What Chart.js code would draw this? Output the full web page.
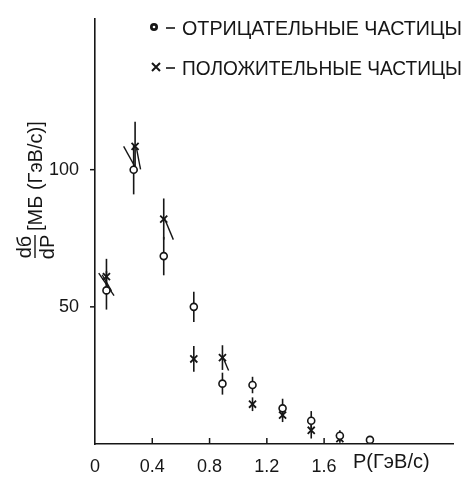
<!DOCTYPE html>
<html>
<head>
<meta charset="utf-8">
<script src="https://cdn.jsdelivr.net/npm/chart.js@4.4.0/dist/chart.umd.min.js"></script>
<style>
    body { margin: 0; background: #fff; }
</style>
</head>
<body>
<canvas id="chart" width="465" height="477"></canvas>
<script>
// negative particles (open circles)
const negMomentum = [0.08, 0.27, 0.48, 0.69, 0.89, 1.10, 1.31, 1.51, 1.71, 1.92];
const negValues   = [56, 100, 68.5, 50, 22, 21.5, 13, 8.5, 3, 1.5];
const negErrors   = [7, 9, 7, 5.5, 4, 3, 3.5, 3.5, 2, 1];

// positive particles (crosses)
const posMomentum = [0.08, 0.28, 0.48, 0.69, 0.89, 1.10, 1.31, 1.51, 1.71];
const posValues   = [61, 108.5, 82, 31, 31.5, 14.5, 10.5, 5, 2];
const posErrors   = [6.5, 9, 7.5, 4.7, 4.5, 2.5, 2.5, 3, 1.5];

// short slanted strokes drawn through some of the points
const slantFromX = [0.026, 0.05, 0.20, 0.29, 0.484, 0.893];
const slantFromY = [62.3, 61.7, 108.5, 107.8, 82.4, 31.6];
const slantToX   = [0.133, 0.115, 0.295, 0.318, 0.547, 0.933];
const slantToY   = [54.1, 55.8, 99.6, 100.1, 74.5, 26.8];

const xTicks = [0, 0.4, 0.8, 1.2, 1.6];
const yTicks = [50, 100];

const legendLabels = ["ОТРИЦАТЕЛЬНЫЕ ЧАСТИЦЫ", "ПОЛОЖИТЕЛЬНЫЕ ЧАСТИЦЫ"];
const xTitle = "P(ГэВ/с)";
const yTitleUnits = "[МБ (ГэВ/с)]";

const ink = "#161616";
const font = "'Liberation Sans', Arial, sans-serif";

const toPoints = (xs, ys) => xs.map((x, i) => ({ x: x, y: ys[i] }));

// vertical error bars and slanted strokes, drawn under the markers
const errorBars = {
    id: "errorBars",
    beforeDatasetsDraw(chart) {
        const ctx = chart.ctx;
        const xs = chart.scales.x;
        const ys = chart.scales.y;
        ctx.save();
        ctx.strokeStyle = ink;
        ctx.lineWidth = 1.6;
        chart.data.datasets.forEach(ds => {
            ds.data.forEach((p, i) => {
                const e = ds.errors[i];
                const px = xs.getPixelForValue(p.x);
                ctx.beginPath();
                ctx.moveTo(px, ys.getPixelForValue(p.y + e));
                ctx.lineTo(px, ys.getPixelForValue(p.y - e));
                ctx.stroke();
            });
        });
        ctx.lineWidth = 1.4;
        slantFromX.forEach((x0, i) => {
            ctx.beginPath();
            ctx.moveTo(xs.getPixelForValue(x0), ys.getPixelForValue(slantFromY[i]));
            ctx.lineTo(xs.getPixelForValue(slantToX[i]), ys.getPixelForValue(slantToY[i]));
            ctx.stroke();
        });
        ctx.restore();
    }
};

// tick marks, axis titles and the legend
const decorations = {
    id: "decorations",
    afterDraw(chart) {
        const ctx = chart.ctx;
        const xs = chart.scales.x;
        const ys = chart.scales.y;
        const area = chart.chartArea;
        ctx.save();
        ctx.strokeStyle = ink;
        ctx.fillStyle = ink;
        ctx.lineWidth = 1.5;

        // x ticks point up into the plot
        xTicks.slice(1).forEach(v => {
            const px = xs.getPixelForValue(v);
            ctx.beginPath();
            ctx.moveTo(px, area.bottom);
            ctx.lineTo(px, area.bottom - 6);
            ctx.stroke();
        });
        // y ticks point out to the left
        yTicks.forEach(v => {
            const py = ys.getPixelForValue(v);
            ctx.beginPath();
            ctx.moveTo(area.left, py);
            ctx.lineTo(area.left - 5, py);
            ctx.stroke();
        });

        // x title next to the last tick label
        ctx.font = "20px " + font;
        ctx.textAlign = "left";
        ctx.textBaseline = "alphabetic";
        ctx.fillText(xTitle, 353, 468, 78);

        // y title, rotated: fraction dб/dP then units
        ctx.save();
        ctx.translate(35, 258);
        ctx.rotate(-Math.PI / 2);
        ctx.font = "20px " + font;
        ctx.textAlign = "center";
        ctx.textBaseline = "alphabetic";
        ctx.fillText("dб", 11, -4);
        ctx.textBaseline = "top";
        ctx.fillText("dP", 11, 3);
        ctx.lineWidth = 1.4;
        ctx.beginPath();
        ctx.moveTo(0, 0);
        ctx.lineTo(23, 0);
        ctx.stroke();
        ctx.textAlign = "left";
        ctx.textBaseline = "middle";
        ctx.fillText(yTitleUnits, 27, 1, 116);
        ctx.restore();

        // legend
        ctx.font = "20px " + font;
        ctx.textAlign = "left";
        ctx.textBaseline = "alphabetic";
        ctx.beginPath();
        ctx.arc(154, 27, 4, 0, Math.PI * 2);
        ctx.fill();
        ctx.fillStyle = "#fff";
        ctx.beginPath();
        ctx.arc(154, 27, 1.3, 0, Math.PI * 2);
        ctx.fill();
        ctx.fillStyle = ink;
        ctx.lineWidth = 1.6;
        ctx.beginPath();
        ctx.moveTo(166, 28); ctx.lineTo(175, 28);
        ctx.stroke();
        ctx.fillText(legendLabels[0], 182, 35, 280);

        ctx.lineWidth = 2;
        ctx.beginPath();
        ctx.moveTo(152, 63); ctx.lineTo(160, 71);
        ctx.moveTo(160, 63); ctx.lineTo(152, 71);
        ctx.stroke();
        ctx.lineWidth = 1.6;
        ctx.beginPath();
        ctx.moveTo(166, 68); ctx.lineTo(175, 68);
        ctx.stroke();
        ctx.fillText(legendLabels[1], 182, 75, 280);

        ctx.restore();
    }
};

new Chart(document.getElementById("chart"), {
    type: "scatter",
    data: {
        datasets: [
            {
                label: legendLabels[0],
                data: toPoints(negMomentum, negValues),
                errors: negErrors,
                pointStyle: "circle",
                pointRadius: 3.5,
                pointBorderWidth: 1.6,
                pointBorderColor: ink,
                pointBackgroundColor: "#fff"
            },
            {
                label: legendLabels[1],
                data: toPoints(posMomentum, posValues),
                errors: posErrors,
                pointStyle: "crossRot",
                pointRadius: 5,
                pointBorderWidth: 1.8,
                pointBorderColor: ink
            }
        ]
    },
    options: {
        responsive: false,
        animation: false,
        events: [],
        layout: { padding: { top: 7, right: 12, left: 0, bottom: 0 } },
        plugins: {
            legend: { display: false },
            tooltip: { enabled: false }
        },
        scales: {
            x: {
                type: "linear",
                min: 0,
                max: 2.5,
                afterBuildTicks: axis => { axis.ticks = xTicks.map(v => ({ value: v })); },
                afterFit: axis => { axis.height = 33; },
                grid: { display: false },
                border: { display: true, color: ink, width: 1.6 },
                ticks: {
                    color: ink,
                    font: { family: font, size: 18 },
                    padding: 4,
                    maxRotation: 0,
                    callback: v => String(v)
                }
            },
            y: {
                type: "linear",
                min: 0,
                max: 155,
                afterBuildTicks: axis => { axis.ticks = yTicks.map(v => ({ value: v })); },
                afterFit: axis => { axis.width = 95; },
                grid: { display: false },
                border: { display: true, color: ink, width: 1.6 },
                ticks: {
                    color: ink,
                    font: { family: font, size: 18 },
                    padding: 8
                }
            }
        }
    },
    plugins: [errorBars, decorations]
});
</script>
</body>
</html>
